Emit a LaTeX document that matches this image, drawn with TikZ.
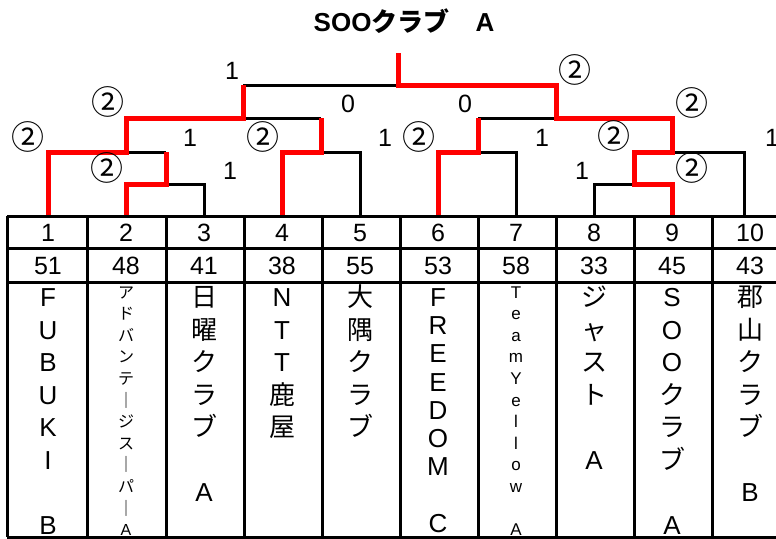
\documentclass[tikz,border=0pt]{standalone}
\usepackage{fontspec}
\setmainfont{Liberation Sans}
\newfontfamily\cjk{Noto Sans CJK JP}
\newcommand\mycol[6]{%
  \foreach \ch [count=\i] in {#6} {%
    \node[#5, anchor=base] (#1-\i) at (#2, {#3+(\i-1)*#4}) {\ch};
  }%
}
\begin{document}
\begin{tikzpicture}[x=1pt,y=-1pt,
  blk/.style={line width=3pt, black},
  redl/.style={line width=5pt, red},
  gridl/.style={line width=3pt, black},
  score/.style={font=\fontsize{25}{25}\selectfont, inner sep=0pt, anchor=base},
  circ/.style={font=\cjk\fontsize{33}{33}\selectfont, inner sep=0pt, anchor=base},
  num/.style={font=\fontsize{25}{25}\selectfont, inner sep=0pt, anchor=base},
  vt/.style={font=\fontsize{26}{26}\selectfont, inner sep=0pt},
  smj/.style={font=\cjk\fontsize{16}{16}\selectfont, inner sep=0pt},
  sml/.style={font=\fontsize{17}{17}\selectfont, inner sep=0pt}]
\useasboundingbox (0,0) rectangle (776,538);

% title
\node[font=\bfseries\fontsize{26}{26}\selectfont, inner sep=0pt, anchor=base] (title) at (404,31.5) {SOO{\cjk\bfseries クラブ　}A};

% team tops
\coordinate (t1) at (48,216);  \coordinate (t2) at (126,216);
\coordinate (t3) at (204,216); \coordinate (t4) at (282,216);
\coordinate (t5) at (360,216); \coordinate (t6) at (438,216);
\coordinate (t7) at (516,216); \coordinate (t8) at (594,216);
\coordinate (t9) at (672,216); \coordinate (t10) at (744,216);
% junctions
\coordinate (p2) at (126,184); \coordinate (m23) at (166,184); \coordinate (p3) at (204,184);
\coordinate (u23) at (166,152);
\coordinate (p1) at (48,152); \coordinate (m1) at (126,152);
\coordinate (u1) at (126,118);
\coordinate (p4) at (282,152); \coordinate (m45) at (321,152); \coordinate (p5) at (360,152);
\coordinate (u45) at (321,118);
\coordinate (sl) at (243,118); \coordinate (usl) at (243,85);
\coordinate (fin) at (398,85); \coordinate (top) at (398,53);
\coordinate (usr) at (556,85); \coordinate (sr) at (556,118);
\coordinate (p6) at (438,152); \coordinate (m67) at (478,152); \coordinate (p7) at (516,152);
\coordinate (u67) at (478,118);
\coordinate (p8) at (594,184); \coordinate (m89) at (634,184); \coordinate (p9) at (672,184);
\coordinate (u89) at (634,152);
\coordinate (m910) at (672,152); \coordinate (p10) at (744,152);
\coordinate (u910) at (672,118);

% black lines
\draw[blk] (m23) -- (p3) -- (t3);
\draw[blk] (m1) -- (u23);
\draw[blk] (m45) -- (p5) -- (t5);
\draw[blk] (sl) -- (u45);
\draw[blk] (usl) -- (fin);
\draw[blk] (m67) -- (p7) -- (t7);
\draw[blk] (u67) -- (sr);
\draw[blk] (t8) -- (p8) -- (m89);
\draw[blk] (m910) -- (p10) -- (t10);

% red lines
\draw[redl] (t1) -- (p1) -- (m1) -- (u1) -- (sl) -- (usl);
\draw[redl] (t2) -- (p2) -- (m23) -- (u23);
\draw[redl] (t4) -- (p4) -- (m45) -- (u45);
\draw[redl] (t6) -- (p6) -- (m67) -- (u67);
\draw[redl] (t9) -- (p9) -- (m89) -- (u89) -- (m910) -- (u910) -- (sr) -- (usr) -- (fin) -- (top);

% scores
\node[score] (s1) at (232,79) {1};
\node[circ] (s2) at (108,114.5) {②};
\node[score] (s3) at (348,112) {0};
\node[circ] (s4) at (28,149.5) {②};
\node[score] (s5) at (190,146) {1};
\node[circ] (s6) at (263,149.5) {②};
\node[score] (s7) at (385,146) {1};
\node[circ] (s8) at (107,180.5) {②};
\node[score] (s9) at (230,179) {1};
\node[circ] (s10) at (575,82.5) {②};
\node[score] (s11) at (465,112) {0};
\node[circ] (s12) at (692,115.5) {②};
\node[circ] (s13) at (419,149.5) {②};
\node[score] (s14) at (542,146) {1};
\node[circ] (s15) at (614,148.5) {②};
\node[score] (s16) at (772,146) {1};
\node[score] (s17) at (582,179) {1};
\node[circ] (s18) at (692,180.5) {②};

% table grid
\foreach \yy [count=\k] in {216,248,282,537}
  \draw[gridl] (7,\yy) coordinate (hl\k) -- (776,\yy) coordinate (hr\k);
\foreach \xx [count=\k] in {7,87,166,244,322,400,478,556,634,712}
  \draw[gridl] (\xx,216) coordinate (vt\k) -- (\xx,537) coordinate (vb\k);

% numbers
\foreach \n/\w [count=\k] in {1/51,2/48,3/41,4/38,5/55,6/53,7/58,8/33,9/45,10/43} {
  \node[num] (n\k) at ({48+78*(\k-1)},241) {\n};
  \node[num] (w\k) at ({48+78*(\k-1)},274) {\w};
}

% names
\mycol{c1}{48}{306.5}{32.5}{vt}{F,U,B,U,K,I,{},B}
\mycol{c2}{126}{298}{21.6}{smj}{ア,ド,バ,ン,テ,｜,ジ,ス,｜,パ,｜,{\fontspec{Liberation Sans}A}}
\mycol{c3}{204}{306.5}{32.5}{vt}{{\cjk 日},{\cjk 曜},{\cjk ク},{\cjk ラ},{\cjk ブ},{},A}
\mycol{c4}{282}{306.5}{32.5}{vt}{N,T,T,{\cjk 鹿},{\cjk 屋}}
\mycol{c5}{360}{306.5}{32.5}{vt}{{\cjk 大},{\cjk 隅},{\cjk ク},{\cjk ラ},{\cjk ブ}}
\mycol{c6}{438}{306.5}{28.2}{vt}{F,R,E,E,D,O,M,{},C}
\mycol{c7}{516}{298}{21.6}{sml}{T,e,a,m,Y,e,l,l,o,w,{},A}
\mycol{c8}{594}{306.5}{32.5}{vt}{{\cjk ジ},{\cjk ャ},{\cjk ス},{\cjk ト},{},A}
\mycol{c9}{672}{306.5}{32.5}{vt}{S,O,O,{\cjk ク},{\cjk ラ},{\cjk ブ},{},A}
\mycol{c10}{750}{306.5}{32.5}{vt}{{\cjk 郡},{\cjk 山},{\cjk ク},{\cjk ラ},{\cjk ブ},{},B}
\end{tikzpicture}
\end{document}
